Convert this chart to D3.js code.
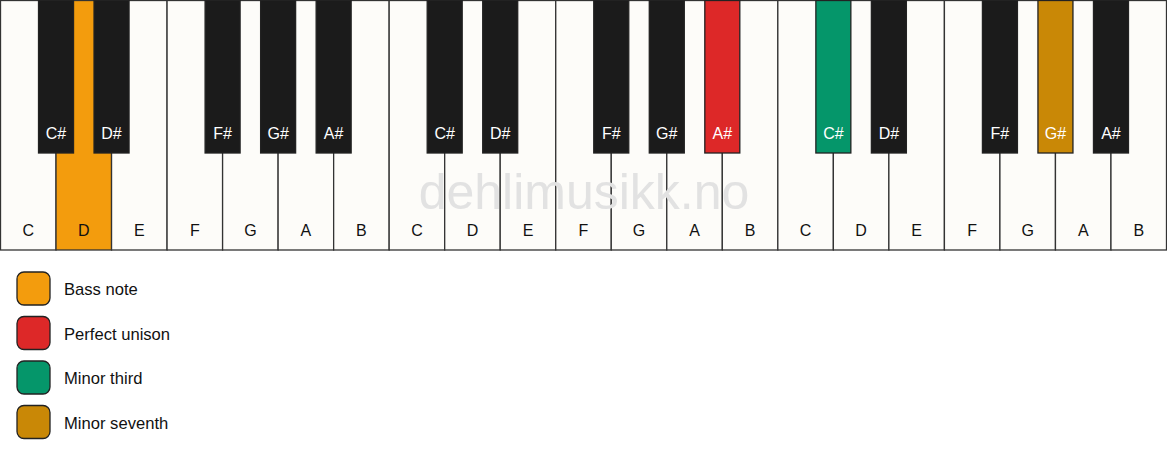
<!DOCTYPE html>
<html>
<head>
<meta charset="utf-8">
<script src="https://cdn.jsdelivr.net/npm/d3@7"></script>
<style>
body{margin:0;background:#fff;font-family:"Liberation Sans",Arial,sans-serif;}
</style>
</head>
<body>
<svg id="main" width="1167" height="461"></svg>
<script>
var whiteNames=['C','D','E','F','G','A','B'];
var blackNames=['C#','D#','F#','G#','A#'];
var blackAfter=[0,1,3,4,5]; // white index (in octave) the black key sits after
var octaves=3;
// highlighted notes: [octave, name, legend index]
var marked=[[0,'D',0],[1,'A#',1],[2,'C#',2],[2,'G#',3]];
var legendLabels=['Bass note','Perfect unison','Minor third','Minor seventh'];
var legendColors=['#f39c0d','#dd2828','#05966a','#c98806'];

var svg=d3.select('#main');
var W=1166, whiteH=250, blackH=153, blackW=35;

var whites=[];
for(o=0;o<octaves;o++){
  whiteNames.forEach(function(n,i){ whites.push({o:o,name:n,idx:o*7+i}) });
}
var blacks=[];
for(o=0;o<octaves;o++){
  blackNames.forEach(function(n,i){ blacks.push({o:o,name:n,idx:o*7+blackAfter[i]+1}) });
}
function colorOf(d){
  var m=marked.find(function(k){return k[0]==d.o && k[1]==d.name});
  return m ? legendColors[m[2]] : null;
}

var x=d3.scaleLinear().domain([0,whites.length]).range([0.5,W+0.5]);

var keys=svg.append('g');
keys.selectAll('rect.white').data(whites).enter().append('rect')
  .attr('class','white')
  .attr('x',function(d){return x(d.idx)})
  .attr('y',0.5)
  .attr('width',function(d){return x(d.idx+1)-x(d.idx)})
  .attr('height',whiteH-0.5)
  .attr('fill',function(d){return colorOf(d)||'#fdfcf9'})
  .attr('stroke','#333')
  .attr('stroke-width',1.3);

// watermark
svg.append('text')
  .attr('x',584).attr('y',209)
  .attr('text-anchor','middle')
  .attr('font-size',50)
  .attr('fill','#e2e2e2')
  .text('dehlimusikk.no');

keys.selectAll('text.wl').data(whites).enter().append('text')
  .attr('class','wl')
  .attr('x',function(d){return (x(d.idx)+x(d.idx+1))/2})
  .attr('y',236)
  .attr('text-anchor','middle')
  .attr('font-size',16)
  .attr('fill','#111')
  .text(function(d){return d.name});

keys.selectAll('rect.black').data(blacks).enter().append('rect')
  .attr('class','black')
  .attr('x',function(d){return x(d.idx)-blackW/2})
  .attr('y',0.5)
  .attr('width',blackW)
  .attr('height',blackH-0.5)
  .attr('fill',function(d){return colorOf(d)||'#1b1b1b'})
  .attr('stroke','#222')
  .attr('stroke-width',1.3);

keys.selectAll('text.bl').data(blacks).enter().append('text')
  .attr('class','bl')
  .attr('x',function(d){return x(d.idx)})
  .attr('y',139)
  .attr('text-anchor','middle')
  .attr('font-size',16)
  .attr('fill','#fff')
  .text(function(d){return d.name});

// legend
var ly=d3.scaleLinear().domain([0,1]).range([272,316.5]);
var leg=svg.append('g');
var rows=leg.selectAll('g').data(legendLabels).enter().append('g')
  .attr('transform',function(d,i){return 'translate(17,'+ly(i)+')'});
rows.append('rect')
  .attr('width',33).attr('height',33)
  .attr('rx',7).attr('ry',7)
  .attr('fill',function(d,i){return legendColors[i]})
  .attr('stroke','#222')
  .attr('stroke-width',1.3);
rows.append('text')
  .attr('x',47).attr('y',23.3)
  .attr('font-size',16.6)
  .attr('fill','#111')
  .text(function(d){return d});
</script>
</body>
</html>
